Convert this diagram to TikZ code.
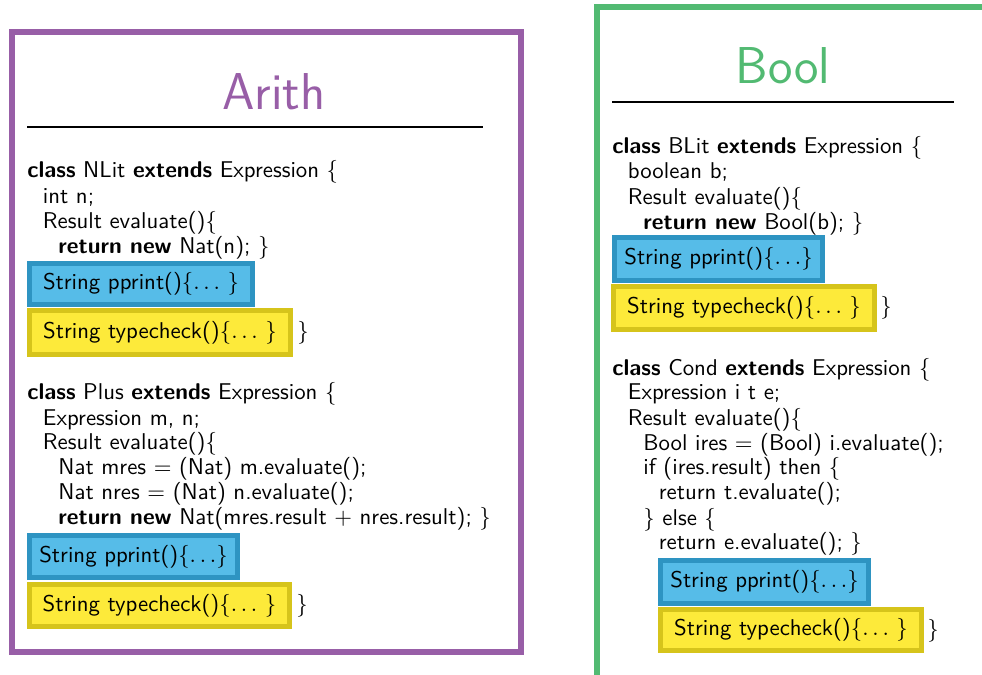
\documentclass[tikz,border=0pt]{standalone}
\usepackage{xcolor}
\definecolor{arithpurple}{RGB}{152,94,167}
\definecolor{boolgreen}{RGB}{82,186,114}
\definecolor{ppfill}{RGB}{86,188,232}
\definecolor{ppedge}{RGB}{46,148,194}
\definecolor{tcfill}{RGB}{253,234,58}
\definecolor{tcedge}{RGB}{214,196,27}
\def\pxu{0.48pt}
\begin{document}
\begin{tikzpicture}[x=0.48pt,y=-0.48pt,font=\sffamily\fontsize{10.95}{13.6}\selectfont,
  code/.style={anchor=base west,inner sep=0pt},
  methbox/.style n args={2}{rectangle,inner sep=0pt,line width=2.4pt,
    minimum width=#1*\pxu,minimum height=#2*\pxu,
    text height=8.2pt,text depth=2.7pt},
  ppbox/.style 2 args={methbox={#1}{#2},draw=ppedge,fill=ppfill},
  tcbox/.style 2 args={methbox={#1}{#2},draw=tcedge,fill=tcfill},
  title/.style={anchor=base,inner sep=0pt,font=\sffamily\Huge},
  rule/.style={line width=0.55pt}]
\useasboundingbox (0,0) rectangle (982,674);

% package frames
\draw[arithpurple,line width=2.9pt] (12,32) rectangle (521,652);
\draw[boolgreen,line width=2.9pt] (597,700) -- (597,7) -- (1000,7);

% titles and rules
\node[title,text=arithpurple] (arith) at (274,109) {Arith};
\coordinate (arl) at (27,127);
\coordinate (arr) at (483,127);
\draw[rule] (arl) -- (arr);
\node[title,text=boolgreen] (bool) at (783,83) {Bool};
\coordinate (bol) at (612,102);
\coordinate (bor) at (954,102);
\draw[rule] (bol) -- (bor);

% class NLit
\node[code] (n1) at (27,177) {\textbf{class} NLit \textbf{extends} Expression $\{$};
\node[code] (n2) at (42.5,203) {int n;};
\node[code] (n3) at (42.5,228) {Result evaluate()$\{$};
\node[code] (n4) at (58,253) {\textbf{return new} Nat(n); $\}$};
\node[ppbox={223}{41}] (npp) at (141,284) {String pprint()$\{\ldots\ \}$};
\node[tcbox={261}{44}] (ntc) at (160,332.5) {String typecheck()$\{\ldots\ \}$};
\node[code] (nend) at (297,338) {$\}$};

% class Plus
\node[code] (p1) at (27,399) {\textbf{class} Plus \textbf{extends} Expression $\{$};
\node[code] (p2) at (42.5,425) {Expression m, n;};
\node[code] (p3) at (42.5,449) {Result evaluate()$\{$};
\node[code] (p4) at (58,474) {Nat mres $=$ (Nat) m.evaluate();};
\node[code] (p5) at (58,499) {Nat nres $=$ (Nat) n.evaluate();};
\node[code] (p6) at (58,524) {\textbf{return new} Nat(mres.result $+$ nres.result); $\}$};
\node[ppbox={208}{42}] (ppp) at (133.5,556.5) {String pprint()$\{\ldots\}$};
\node[tcbox={260}{42}] (ptc) at (159.5,605.5) {String typecheck()$\{\ldots\ \}$};
\node[code] (pend) at (296,611) {$\}$};

% class BLit
\node[code] (b1) at (612,153) {\textbf{class} BLit \textbf{extends} Expression $\{$};
\node[code] (b2) at (627.5,178) {boolean b;};
\node[code] (b3) at (627.5,204) {Result evaluate()$\{$};
\node[code] (b4) at (643,229) {\textbf{return new} Bool(b); $\}$};
\node[ppbox={208}{43}] (bpp) at (718.5,259) {String pprint()$\{\ldots\}$};
\node[tcbox={261}{43}] (btc) at (744,308) {String typecheck()$\{\ldots\ \}$};
\node[code] (bend) at (880,313) {$\}$};

% class Cond
\node[code] (c1) at (612,375) {\textbf{class} Cond \textbf{extends} Expression $\{$};
\node[code] (c2) at (627.5,399) {Expression i t e;};
\node[code] (c3) at (627.5,425) {Result evaluate()$\{$};
\node[code] (c4) at (643,450) {Bool ires $=$ (Bool) i.evaluate();};
\node[code] (c5) at (643,474) {if (ires.result) then $\{$};
\node[code] (c6) at (658.5,499) {return t.evaluate();};
\node[code] (c7) at (643,525) {$\}$ else $\{$};
\node[code] (c8) at (658.5,549) {return e.evaluate(); $\}$};
\node[ppbox={208}{43}] (cpp) at (764.5,582) {String pprint()$\{\ldots\}$};
\node[tcbox={261}{41}] (ctc) at (791,630) {String typecheck()$\{\ldots\ \}$};
\node[code] (cend) at (927,636) {$\}$};
\end{tikzpicture}
\end{document}
